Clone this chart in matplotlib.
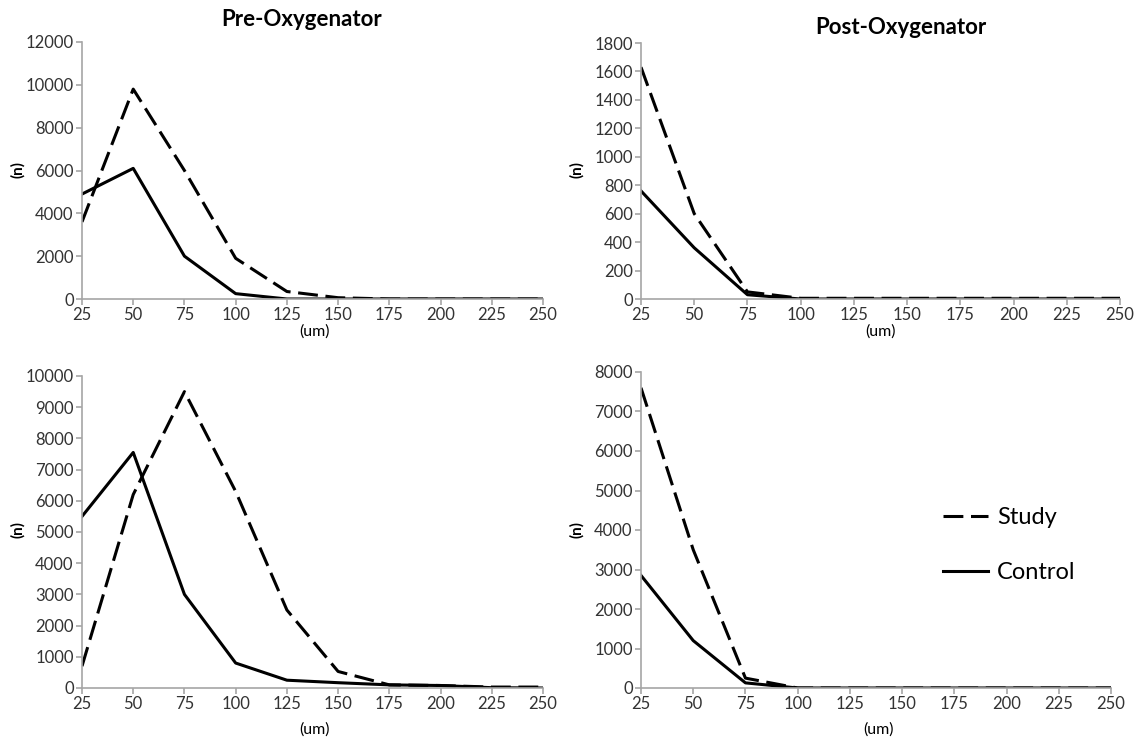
import matplotlib.pyplot as plt
import numpy as np

plt.rcParams['font.family'] = ['Lato', 'DejaVu Sans']

# particle size bins (um)
sizes = [25, 50, 75, 100, 125, 150, 175, 200, 225, 250]

# top row: pre / post oxygenator
pre1_study = [3600, 9800, 6000, 1900, 350, 60, 0, 0, 0, 0]
pre1_control = [4900, 6100, 2000, 250, 0, 0, 0, 0, 0, 0]
post1_study = [1630, 600, 50, 5, 5, 5, 5, 5, 5, 5]
post1_control = [760, 360, 30, 0, 0, 0, 0, 0, 0, 0]

# bottom row: pre / post oxygenator
pre2_study = [700, 6200, 9500, 6300, 2500, 530, 100, 80, 30, 30]
pre2_control = [5500, 7550, 3000, 800, 250, 170, 100, 80, 10, 0]
post2_study = [7600, 3500, 250, 0, 0, 0, 0, 0, 0, 0]
post2_control = [2850, 1200, 130, 0, 0, 0, 0, 0, 0, 0]

fig = plt.figure(figsize=(11.38, 7.43), dpi=100)

W, H = 1138, 743


def box(x0, x1, ytop, ybot):
    return [x0 / W, 1 - ybot / H, (x1 - x0) / W, (ybot - ytop) / H]


panels = [
    (box(82, 543, 42, 299), pre1_study, pre1_control, 12000, 2000),
    (box(641, 1120, 43, 299), post1_study, post1_control, 1800, 200),
    (box(82, 543, 376, 688), pre2_study, pre2_control, 10000, 1000),
    (box(641, 1111, 372, 688), post2_study, post2_control, 8000, 1000),
]

axes = []
for rect, study, control, ymax, ystep in panels:
    ax = fig.add_axes(rect)
    ax.plot(sizes, study, color='black', lw=2.2, dashes=(6.5, 2.5), label='Study')
    ax.plot(sizes, control, color='black', lw=2.2, label='Control')
    ax.set_xlim(25, 250)
    ax.set_ylim(0, ymax)
    ax.set_xticks(sizes)
    ax.set_yticks(np.arange(0, ymax + 1, ystep))
    for s in ['top', 'right']:
        ax.spines[s].set_visible(False)
    for s in ['left', 'bottom']:
        ax.spines[s].set_color('#a6a6a6')
        ax.spines[s].set_linewidth(1.2)
    ax.tick_params(colors='#a6a6a6', labelcolor='#333333', labelsize=12,
                   length=4, width=1.2, direction='out', pad=2)
    ax.patch.set_alpha(0)
    axes.append(ax)

# titles and axis labels
fig.text(302 / W, 1 - 20 / H, 'Pre-Oxygenator', ha='center', va='center',
         fontsize=16, fontweight='bold')
fig.text(901 / W, 1 - 28 / H, 'Post-Oxygenator', ha='center', va='center',
         fontsize=16, fontweight='bold')
for x, y in [(18, 170), (577, 170), (18, 530), (577, 530)]:
    fig.text(x / W, 1 - y / H, '(n)', rotation=90, ha='center', va='center',
             fontsize=11, fontweight='bold')
for x, y in [(314, 332), (880, 332), (314, 730), (878, 730)]:
    fig.text(x / W, 1 - y / H, '(um)', ha='center', va='center', fontsize=11.5)

axes[3].legend(loc='center left', bbox_to_anchor=(943 / W, 1 - 545 / H),
               bbox_transform=fig.transFigure, frameon=False, fontsize=17,
               handlelength=1.9, handletextpad=0.38, labelspacing=1.45,
               borderpad=0, borderaxespad=0)

fig.savefig('out.png', dpi=100)
